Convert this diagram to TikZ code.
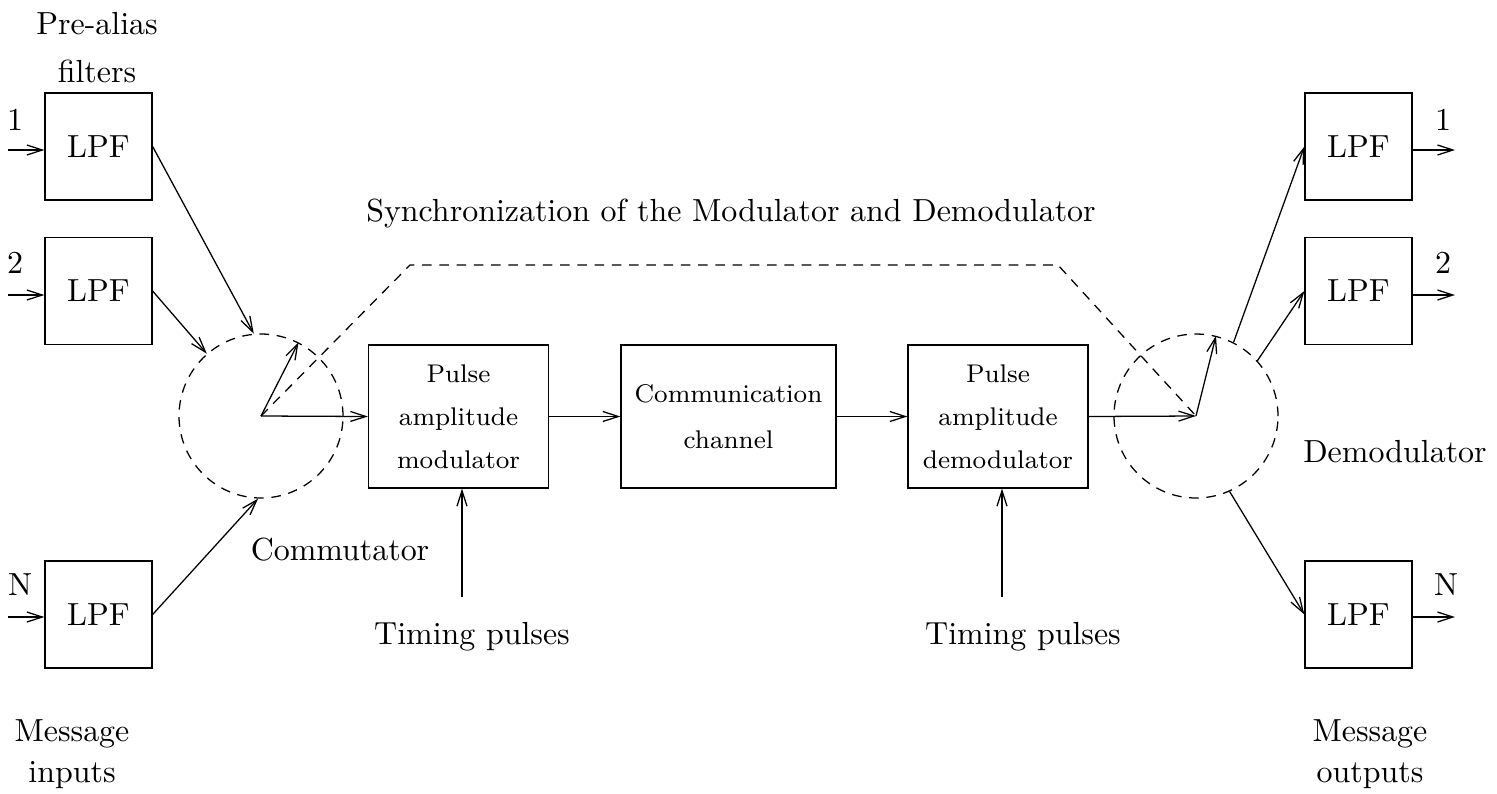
\documentclass[tikz,border=0pt]{standalone}
\usepackage{tikz}
\usetikzlibrary{arrows.meta,positioning}

\begin{document}
\begin{tikzpicture}[
  x=0.011cm, y=-0.011cm,
  line width=0.4pt,
  >={Straight Barb[length=1.7mm,width=1.1mm]},
  lpf/.style={rectangle, draw, minimum width=1.177cm, minimum height=1.177cm, font=\normalsize},
  block/.style={rectangle, draw, minimum width=1.98cm, minimum height=1.573cm, font=\footnotesize, align=center},
  switch/.style={circle, draw, dash pattern=on 3pt off 2.4pt, minimum size=1.804cm, inner sep=0pt},
  lbl/.style={font=\normalsize, align=center}
]
\useasboundingbox (0,0) rectangle (1497,793);

% input filters
\node[lpf] (lpfa) at (98.5,146.5) {LPF};
\node[lpf] (lpfb) at (98.5,291) {LPF};
\node[lpf] (lpfc) at (98.5,614.5) {LPF};
\node[lbl] (prealias) at (97,48) {Pre-alias\\[3pt]filters};
\node[lbl] (msgin) at (72,754) {Message\\[1pt]inputs};

\coordinate (ina) at (8,150);
\coordinate (inb) at (8,295);
\coordinate (inc) at (8,617);
\draw[->] (ina) -- (ina -| lpfa.west);
\draw[->] (inb) -- (inb -| lpfb.west);
\draw[->] (inc) -- (inc -| lpfc.west);
\node[lbl] (ina_l) at (15,120) {1};
\node[lbl] (inb_l) at (15,263) {2};
\node[lbl] (inc_l) at (20,585) {N};

% commutator
\node[switch] (com) at (261,416) {};
\node[lbl] (com_l) at (340,550) {Commutator};
\draw[->] (lpfa.east) -- (com.95);
\draw[->] (lpfb.east) -- (com.131);
\draw[->] (lpfc.east) -- (com.268);
\draw[->] (com.center) -- (com.63);

% modulator, channel, demodulator
\node[block] (pam) at (458.5,416.5) {Pulse\\[4pt]amplitude\\[4pt]modulator};
\node[block, minimum width=2.365cm] (chan) at (728.5,416.5) {Communication\\[5pt]channel};
\node[block] (pad) at (998,416.5) {Pulse\\[4pt]amplitude\\[4pt]demodulator};

\draw[->] (com.center) -- (pam.west);
\draw[->] (pam) -- (chan);
\draw[->] (chan) -- (pad);

\coordinate (tpa) at (462,597);
\coordinate (tpb) at (1002,597);
\draw[->] (tpa) -- (tpa |- pam.south);
\draw[->] (tpb) -- (tpb |- pad.south);
\node[lbl] (tpa_l) at (472,637) {Timing pulses};
\node[lbl] (tpb_l) at (1023,637) {Timing pulses};

% demodulator switch
\node[switch] (dem) at (1196,416) {};
\node[lbl] (dem_l) at (1395,452) {Demodulator};
\draw[->] (pad.east) -- (dem.center);
\draw[->] (dem.center) -- (dem.76);

% synchronization
\coordinate (synca) at (410,265);
\coordinate (syncb) at (1058,265);
\draw[dash pattern=on 3pt off 2.4pt] (com.center) -- (synca) -- (syncb) -- (dem.center);
\node[lbl] (sync_l) at (731,214) {Synchronization of the Modulator and Demodulator};

% output filters
\node[lpf] (rlpfa) at (1358.5,146.5) {LPF};
\node[lpf] (rlpfb) at (1358.5,291) {LPF};
\node[lpf] (rlpfc) at (1358.5,614.5) {LPF};
\draw[->] (dem.63) -- (rlpfa.west);
\draw[->] (dem.42) -- (rlpfb.west);
\draw[->] (dem.294) -- (rlpfc.west);

\coordinate (outa) at (1455,150);
\coordinate (outb) at (1455,295);
\coordinate (outc) at (1455,617);
\draw[->] (outa -| rlpfa.east) -- (outa);
\draw[->] (outb -| rlpfb.east) -- (outb);
\draw[->] (outc -| rlpfc.east) -- (outc);
\node[lbl] (outa_l) at (1443,120) {1};
\node[lbl] (outb_l) at (1443,263) {2};
\node[lbl] (outc_l) at (1446,585) {N};
\node[lbl] (msgout) at (1370,754) {Message\\[1pt]outputs};

\end{tikzpicture}
\end{document}
